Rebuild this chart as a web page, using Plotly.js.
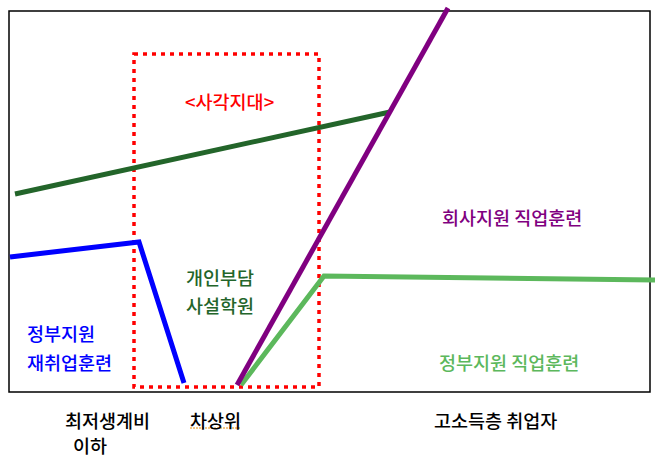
<!DOCTYPE html>
<html>
<head>
<meta charset="utf-8">
<script src="https://cdn.plot.ly/plotly-3.0.1.min.js"></script>
<style>html,body{margin:0;padding:0;background:#fff;}#chart{width:659px;height:457px;}</style>
</head>
<body>
<div id="chart"></div>
<script>
// Series (coordinates in the chart's own position units)
const privateAcademyX = [15, 390];
const privateAcademyY = [194, 112];
const govReemployX = [10, 139, 184];
const govReemployY = [257, 242, 383];
const companyTrainX = [237, 448];
const companyTrainY = [385, 8];
const govJobTrainX = [241, 324, 655];
const govJobTrainY = [385, 276, 280];

// Category labels along the bottom
const categoryLabels = ['최저생계비', '이하', '차상위', '고소득층 취업자'];
const privateAcademyLabel = ['개인부담', '사설학원'];
const govReemployLabel = ['정부지원', '재취업훈련'];
const companyTrainLabel = '회사지원 직업훈련';
const govJobTrainLabel = '정부지원 직업훈련';
const zoneLabel = '<사각지대>';

const FONT = '"Noto Sans CJK KR", "Noto Sans", sans-serif';

function line(x, y, color) {
  return {x: x, y: y, type: 'scatter', mode: 'lines', hoverinfo: 'skip',
          line: {color: color, width: 5}, showlegend: false};
}

const traces = [
  line(privateAcademyX, privateAcademyY, '#23652a'),
  line(govReemployX, govReemployY, '#0000ff'),
  line(govJobTrainX, govJobTrainY, '#5cb85c'),
  line(companyTrainX, companyTrainY, '#800080')
];

function ann(text, x, y, color, anchor) {
  return {text: text, x: x, y: y, xref: 'x', yref: 'y', showarrow: false,
          xanchor: anchor || 'center', yanchor: 'middle', align: 'left',
          font: {family: FONT, size: 18.5, color: color, weight: 500}};
}

const annotations = [
  ann(zoneLabel, 229, 101, '#ff0000'),
  ann(privateAcademyLabel[0], 184, 277, '#23652a', 'left'),
  ann(privateAcademyLabel[1], 184, 305, '#23652a', 'left'),
  ann(govReemployLabel[0], 25, 333, '#0000ff', 'left'),
  ann(govReemployLabel[1], 25, 362, '#0000ff', 'left'),
  ann(companyTrainLabel, 512, 217, '#800080'),
  ann(govJobTrainLabel, 509, 362, '#5cb85c'),
  ann(categoryLabels[0], 107, 420, '#000000'),
  ann(categoryLabels[1], 90, 445, '#000000'),
  ann(categoryLabels[2], 215, 420, '#000000'),
  ann(categoryLabels[3], 495, 420, '#000000')
];

const shapes = [
  {type: 'rect', xref: 'x', yref: 'y', x0: 9, x1: 650, y0: 11, y1: 392,
   line: {color: '#000000', width: 1.5}, layer: 'below'},
  {type: 'rect', xref: 'x', yref: 'y', x0: 134, x1: 319, y0: 54, y1: 387,
   line: {color: '#ff0000', width: 3.5, dash: '4px,5px'}, layer: 'below'},
  {type: 'line', xref: 'x', yref: 'y', x0: 190, x1: 240, y0: 428, y1: 428,
   line: {color: '#e8900a', width: 1, dash: '2px,1px'}}
];

const layout = {
  width: 659, height: 457,
  margin: {l: 0, r: 0, t: 0, b: 0, pad: 0},
  paper_bgcolor: '#ffffff', plot_bgcolor: '#ffffff',
  xaxis: {range: [0, 659], visible: false, fixedrange: true},
  yaxis: {range: [457, 0], visible: false, fixedrange: true},
  showlegend: false,
  annotations: annotations,
  shapes: shapes
};

Plotly.newPlot('chart', traces, layout, {displayModeBar: false, staticPlot: true});
</script>
</body>
</html>
